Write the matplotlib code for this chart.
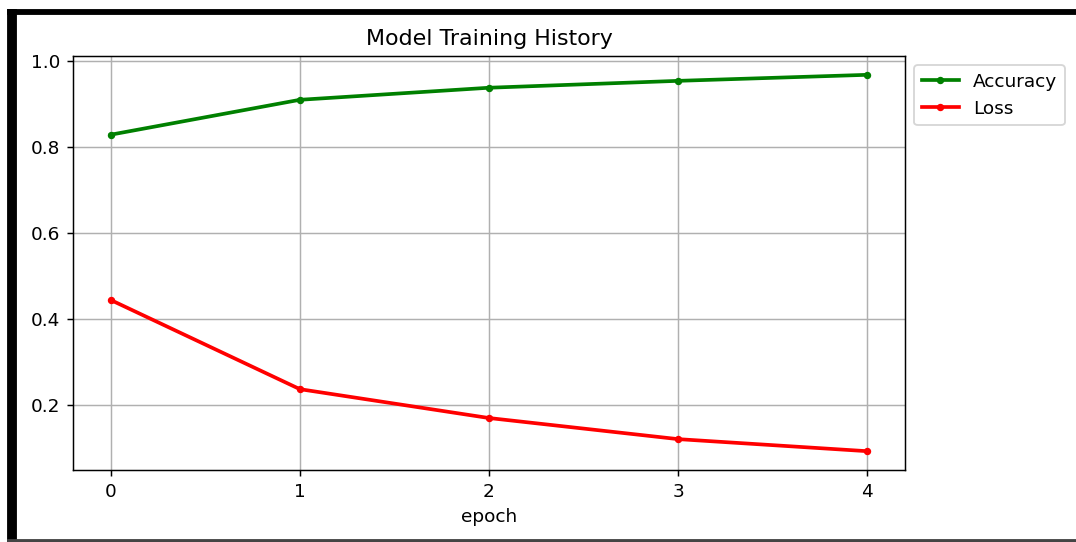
import matplotlib.pyplot as plt
from matplotlib.patches import Rectangle

epochs = [0, 1, 2, 3, 4]
accuracy = [0.828, 0.909, 0.937, 0.953, 0.967]
loss = [0.444, 0.237, 0.170, 0.121, 0.093]

W, H = 1076, 542
DPI = 133
fig = plt.figure(figsize=(W / DPI, H / DPI), dpi=DPI)
ax = fig.add_axes([73 / W, 1 - 470 / H, (905 - 73) / W, (470 - 56) / H])

ax.plot(epochs, accuracy, color='green', marker='.', linewidth=2, label='Accuracy')
ax.plot(epochs, loss, color='red', marker='.', linewidth=2, label='Loss')
ax.set_title('Model Training History')
ax.set_xlabel('epoch')
ax.set_xticks(epochs)
ax.grid(True)
ax.legend(loc='upper left', bbox_to_anchor=(1, 1))

# screenshot frame
fig.patches.append(Rectangle((8 / W, 0), 8 / W, 1 - 10 / H, transform=fig.transFigure,
                             color='black', zorder=10))
fig.patches.append(Rectangle((8 / W, 1 - 14 / H), 1, 4 / H, transform=fig.transFigure,
                             color='black', zorder=10))
fig.patches.append(Rectangle((8 / W, 0), 1, 2 / H, transform=fig.transFigure,
                             color='#444444', zorder=10))

fig.savefig('out.png', dpi=DPI)
